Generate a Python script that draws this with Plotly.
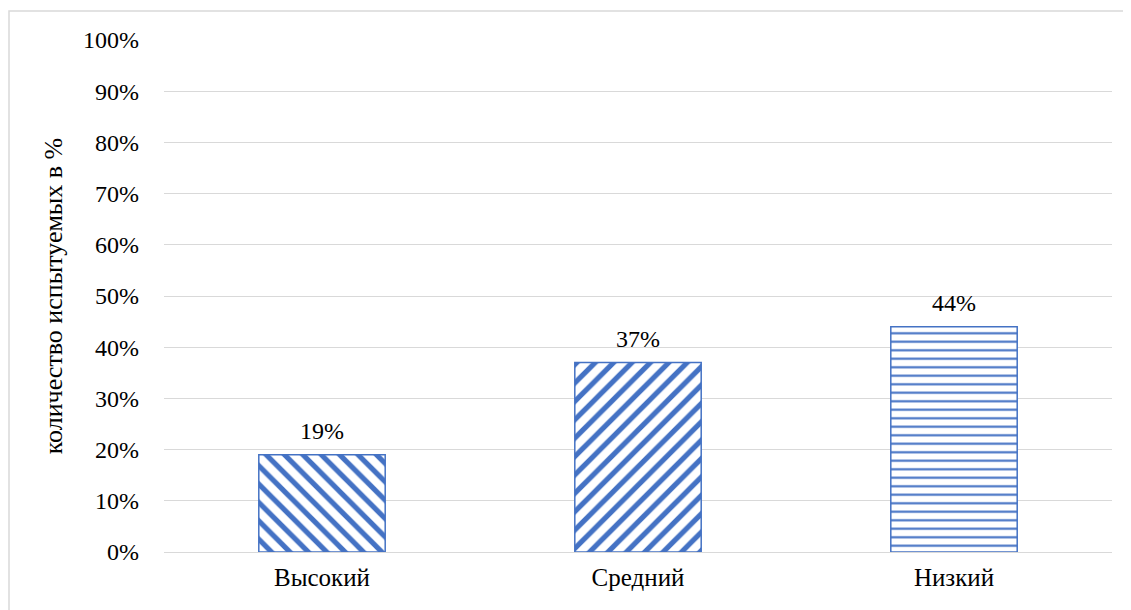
import plotly.graph_objects as go

categories = ["Высокий", "Средний", "Низкий"]
values = [19, 37, 44]
labels = ["19%", "37%", "44%"]
tick_vals = [0, 10, 20, 30, 40, 50, 60, 70, 80, 90, 100]
tick_text = [f"{v}%" for v in tick_vals]
patterns = ["\\", "/", "-"]

blue = "#4472C4"
font_family = "Liberation Serif"

fig = go.Figure()
fig.add_trace(go.Bar(
    x=categories, y=values,
    width=0.4,
    marker=dict(
        color="white",
        line=dict(color=blue, width=1.5),
        pattern=dict(shape=patterns, fgcolor=blue, bgcolor="white",
                     size=[13, 13, 8.5], solidity=[0.4, 0.4, 0.25],
                     fillmode="replace"),
    ),
))

for c, v, t in zip(categories, values, labels):
    fig.add_annotation(x=c, y=v, text=t, showarrow=False, yanchor="bottom",
                       yshift=9, font=dict(family=font_family, size=24, color="#000000"))

fig.update_layout(
    width=1131, height=610,
    margin=dict(l=156, r=27, t=32, b=66),
    paper_bgcolor="white", plot_bgcolor="white",
    showlegend=False,
    font=dict(family=font_family, size=24, color="#000000"),
    xaxis=dict(showgrid=False, showline=False, ticks="", tickfont=dict(family=font_family, size=25),
               ticklabelstandoff=8),
    yaxis=dict(range=[0, 100], tickvals=tick_vals, ticktext=tick_text,
               showgrid=True, gridcolor="#D9D9D9", gridwidth=1,
               zeroline=True, zerolinecolor="#D9D9D9", zerolinewidth=1,
               showline=False, ticks="", ticklabelstandoff=24,
               tickfont=dict(family=font_family, size=24),
               title=dict(text="количество испытуемых в %",
                          font=dict(family=font_family, size=26), standoff=12)),
)

fig.add_shape(type="rect", xref="paper", yref="paper",
              x0=(9 - 164) / 948, x1=1.05, y0=-0.3, y1=(552 - 11) / 512,
              line=dict(color="#D9D9D9", width=1.5), fillcolor="rgba(0,0,0,0)", layer="below")

fig.write_html("out.html")
